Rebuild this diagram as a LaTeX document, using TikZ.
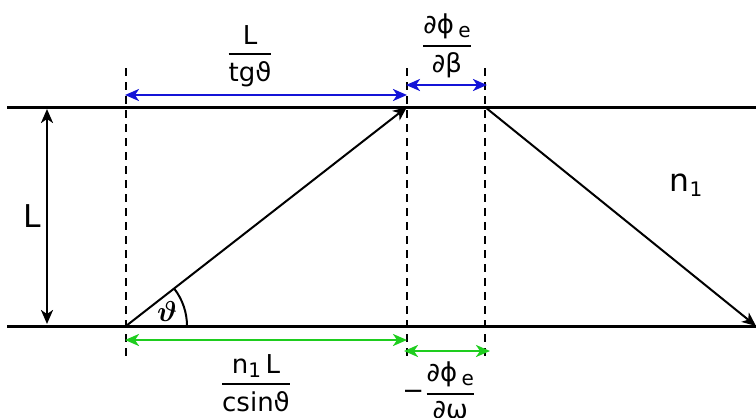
\documentclass[tikz,border=0pt]{standalone}
\usepackage{amsmath}
\usepackage{fontspec}
\setmainfont{DejaVu Sans}
\usetikzlibrary{arrows.meta}
\definecolor{myblue}{RGB}{20,20,215}
\definecolor{mygreen}{RGB}{30,205,30}
\newcommand\myfr[2]{\ensuremath{\genfrac{}{}{1pt}{0}{\hbox{#1}}{\hbox{#2}}}}
\newcommand\sub[1]{\raisebox{-0.3ex}{\fontsize{10}{10}\selectfont #1}}
\begin{document}
\begin{tikzpicture}[x=0.5pt,y=-0.5pt,
  tip/.tip={Stealth[length=7pt,width=6pt,inset=2pt]},
  wall/.style={line width=1.5pt},
  ray/.style={line width=1pt,-tip},
  dim/.style={line width=1.2pt,tip-tip},
  guide/.style={line width=1pt,dash pattern=on 4pt off 3pt},
  big/.style={font=\fontsize{15.7}{18}\selectfont,inner sep=0pt},
  fr/.style={font=\fontsize{13}{15}\selectfont,inner sep=0pt}]
\useasboundingbox (0,0) rectangle (756,418);
\coordinate (TL) at (7,107); \coordinate (TR) at (756,107);
\coordinate (BL) at (7,326); \coordinate (BR) at (756,326);
\coordinate (A) at (126,326); \coordinate (B) at (407,107);
\coordinate (C) at (485,107); \coordinate (D) at (756,326);
\coordinate (g1t) at (126,68); \coordinate (g1b) at (126,360);
\coordinate (g2t) at (407,68); \coordinate (g2b) at (407,360);
\coordinate (g3t) at (485,68); \coordinate (g3b) at (485,360);
\coordinate (Lt) at (47,109); \coordinate (Lb) at (47,324);
\coordinate (b1l) at (125,95); \coordinate (b1r) at (407,95);
\coordinate (b2l) at (406,85); \coordinate (b2r) at (487,85);
\coordinate (c1l) at (125,340); \coordinate (c1r) at (407,340);
\coordinate (c2l) at (404,351); \coordinate (c2r) at (490,351);
% walls
\draw[wall] (TL) -- (TR);
\draw[wall] (BL) -- (BR);
% guides
\draw[guide] (g1t) -- (g1b);
\draw[guide] (g2t) -- (g2b);
\draw[guide] (g3t) -- (g3b);
% rays
\draw[ray] (A) -- (B);
\draw[ray] (C) -- (D);
% angle
\draw[line width=1pt] (A) ++(61,0) arc[start angle=0,end angle=-37.8,radius=61];
\node[inner sep=0pt,font=\fontsize{15}{15}\selectfont] (th) at (167,311) {$\boldsymbol{\vartheta}$};
% thickness arrow
\draw[dim] (Lt) -- (Lb);
\node[big] (Llab) at (32,216) {L};
\node[big] (n1) at (686,185) {n\sub{1}};
% dimension arrows
\draw[dim,myblue] (b1l) -- (b1r);
\draw[dim,myblue] (b2l) -- (b2r);
\draw[dim,mygreen] (c1l) -- (c1r);
\draw[dim,mygreen] (c2l) -- (c2r);
% labels
\node[fr] (f1) at (250,56) {\myfr{L}{tgϑ}};
\node[fr] (f2) at (447,46) {\myfr{∂ϕ\,\sub{e}}{∂β}};
\node[fr] (f3) at (256,383) {\myfr{n\sub{1}\,L}{csinϑ}};
\node[fr,anchor=west] (f4) at (402,390) {−\myfr{∂ϕ\,\sub{e}}{∂ω}};
\end{tikzpicture}
\end{document}
